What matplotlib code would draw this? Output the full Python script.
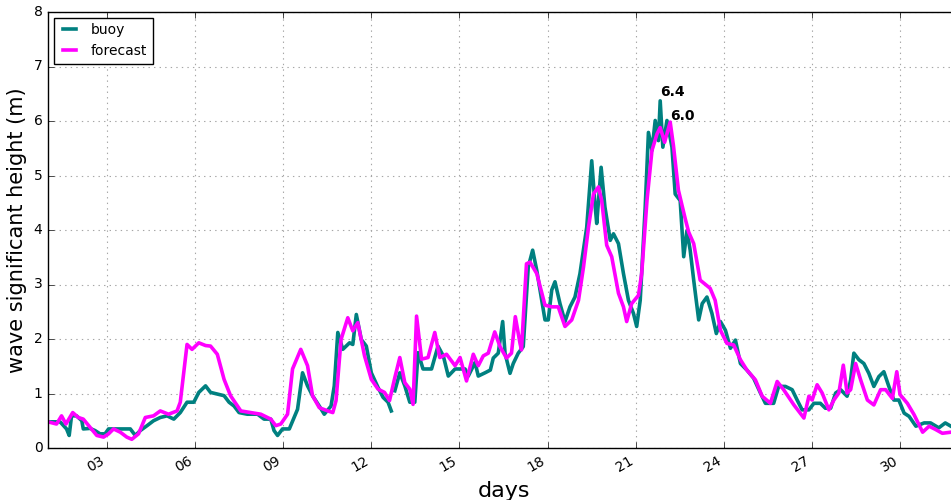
import numpy as np
import pandas as pd
import matplotlib
matplotlib.use("Agg")
import matplotlib.pyplot as plt
import matplotlib.dates as mdates
from matplotlib.dates import DateFormatter

# day of month (fractional) and wave height (m)
buoy_days = [1.0, 1.41, 1.63, 1.72, 1.8, 1.97, 2.15, 2.2, 2.43, 2.6, 2.77, 2.94, 3.06, 3.46, 3.8,
             3.97, 4.14, 4.37, 4.59, 4.82, 5.05, 5.28, 5.5, 5.73, 5.96, 6.13, 6.36, 6.53, 6.76,
             6.99, 7.16, 7.33, 7.5, 7.78, 8.13, 8.35, 8.58, 8.69, 8.81, 8.98, 9.21, 9.49, 9.66,
             9.83, 10.0, 10.23, 10.4, 10.63, 10.74, 10.86, 11.03, 11.26, 11.37, 11.49, 11.66,
             11.83, 12.0, 12.23, 12.4, 12.57, 12.68, 12.74, 12.8, 12.97, 13.14, 13.31, 13.48,
             13.59, 13.76, 14.05, 14.27, 14.45, 14.62, 14.85, 15.19, 15.3, 15.53, 15.64, 15.87,
             16.05, 16.15, 16.32, 16.47, 16.55, 16.72, 16.83, 17.0, 17.17, 17.34, 17.49, 17.63,
             17.8, 17.91, 18.02, 18.14, 18.25, 18.42, 18.59, 18.76, 18.93, 19.1, 19.33, 19.5,
             19.61, 19.67, 19.82, 19.95, 20.13, 20.24, 20.41, 20.58, 20.75, 20.92, 21.03, 21.15,
             21.32, 21.43, 21.55, 21.66, 21.77, 21.83, 21.92, 22.06, 22.23, 22.34, 22.51, 22.63,
             22.74, 22.85, 22.97, 23.14, 23.26, 23.42, 23.59, 23.74, 23.88, 24.05, 24.22, 24.39,
             24.56, 24.78, 25.01, 25.24, 25.41, 25.69, 25.86, 26.09, 26.32, 26.49, 26.66, 26.89,
             27.06, 27.28, 27.45, 27.63, 27.8, 27.97, 28.19, 28.31, 28.42, 28.59, 28.76, 28.93,
             29.1, 29.27, 29.44, 29.61, 29.78, 29.95, 30.13, 30.3, 30.53, 30.81, 31.03, 31.31,
             31.53, 31.72]
buoy_hs = [0.48, 0.48, 0.35, 0.23, 0.59, 0.59, 0.50, 0.35, 0.36, 0.32, 0.26, 0.26, 0.35, 0.35, 0.35,
           0.23, 0.32, 0.41, 0.50, 0.56, 0.59, 0.53, 0.65, 0.84, 0.84, 1.02, 1.14, 1.02, 0.99,
           0.96, 0.84, 0.77, 0.65, 0.62, 0.62, 0.53, 0.53, 0.32, 0.23, 0.35, 0.35, 0.71, 1.38,
           1.14, 0.96, 0.77, 0.62, 0.77, 1.14, 2.12, 1.81, 1.93, 1.90, 2.45, 1.99,
           1.87, 1.38, 1.11, 0.93, 0.84, 0.68, np.nan, 1.05, 1.38, 1.14, 0.84, 0.84,
           1.75, 1.45, 1.45, 1.87, 1.69, 1.32, 1.45, 1.45, 1.32, 1.57, 1.32, 1.38,
           1.43, 1.65, 1.74, 2.32, 1.74, 1.37, 1.55, 1.74, 1.86, 3.32, 3.63, 3.26,
           2.71, 2.35, 2.35, 2.90, 3.05, 2.65, 2.32, 2.59, 2.77, 3.20, 4.05, 5.27,
           4.48, 4.12, 5.15, 4.42, 3.81, 3.93, 3.75, 3.20, 2.71, 2.47, 2.23, 2.71,
           4.42, 5.79, 5.46, 6.01, 5.64, 6.37, 5.52, 6.01, 5.52, 4.66, 4.54, 3.51,
           3.99, 3.63, 3.08, 2.35, 2.65, 2.77, 2.47, 2.10, 2.32, 2.16, 1.83, 1.98,
           1.55, 1.43, 1.28, 1.01, 0.82, 0.82, 1.13, 1.13, 1.07, 0.88, 0.70, 0.70,
           0.82, 0.82, 0.73, 0.73, 1.01, 1.07, 0.95, 1.25, 1.74, 1.62, 1.55, 1.37,
           1.13, 1.31, 1.40, 1.13, 0.88, 0.88, 0.64, 0.58, 0.40, 0.46, 0.46, 0.37,
           0.46, 0.40]

fc_days = [1.0, 1.29, 1.46, 1.61, 1.84, 2.03, 2.2, 2.43, 2.66, 2.89, 3.06, 3.23, 3.46, 3.68, 3.85,
           4.08, 4.31, 4.59, 4.82, 5.1, 5.39, 5.5, 5.73, 5.9, 6.13, 6.36, 6.53, 6.76, 6.99, 7.21,
           7.56, 7.9, 8.24, 8.58, 8.75, 8.92, 9.15, 9.32, 9.6, 9.83, 10.0, 10.23, 10.52, 10.69,
           10.8, 10.97, 11.2, 11.37, 11.54, 11.77, 12.0, 12.23, 12.45, 12.62, 12.8, 12.97,
           13.14, 13.31, 13.42, 13.54, 13.71, 13.93, 14.16, 14.33, 14.56, 14.85, 15.02, 15.24,
           15.47, 15.64, 15.81, 15.98, 16.2, 16.38, 16.6, 16.77, 16.9, 17.06, 17.11, 17.28,
           17.4, 17.63, 17.91, 18.14, 18.36, 18.59, 18.82, 19.05, 19.22, 19.39, 19.56, 19.73,
           19.84, 20.01, 20.18, 20.41, 20.58, 20.69, 20.86, 21.09, 21.2, 21.38, 21.55, 21.72,
           21.83, 21.98, 22.17, 22.28, 22.45, 22.68, 22.8, 22.97, 23.19, 23.53, 23.7, 23.88,
           24.1, 24.33, 24.56, 24.78, 25.07, 25.3, 25.58, 25.81, 26.03, 26.38, 26.72, 26.89,
           27.0, 27.17, 27.34, 27.57, 27.74, 27.91, 28.06, 28.19, 28.31, 28.48, 28.65, 28.88,
           29.1, 29.33, 29.5, 29.73, 29.88, 29.99, 30.24, 30.47, 30.76, 30.98, 31.2, 31.43,
           31.72]
fc_hs = [0.48, 0.44, 0.59, 0.44, 0.65, 0.56, 0.53, 0.38, 0.23, 0.20, 0.26, 0.35, 0.29, 0.20, 0.16,
         0.26, 0.56, 0.59, 0.68, 0.62, 0.68, 0.84, 1.90, 1.81, 1.93, 1.88, 1.87, 1.72, 1.26, 0.96,
         0.68, 0.65, 0.62, 0.53, 0.41, 0.44, 0.62, 1.45, 1.81, 1.51, 0.96, 0.74, 0.68, 0.65,
         0.87, 1.99, 2.39, 2.15, 2.30, 1.69, 1.26, 1.08, 1.02, 0.87, 1.29, 1.66,
         1.20, 1.08, 0.80, 2.42, 1.63, 1.66, 2.12, 1.66, 1.72, 1.51, 1.66, 1.23,
         1.72, 1.51, 1.69, 1.74, 2.13, 1.86, 1.65, 1.74, 2.41, 1.92, 1.80, 3.38,
         3.41, 3.20, 2.62, 2.59, 2.59, 2.23, 2.35, 2.71, 3.32, 4.05, 4.66, 4.79,
         4.54, 3.72, 3.51, 2.84, 2.59, 2.32, 2.65, 2.80, 3.20, 4.54, 5.46, 5.76,
         5.88, 5.61, 5.98, 5.55, 4.73, 4.21, 3.96, 3.75, 3.08, 2.93, 2.71, 2.16,
         1.92, 1.89, 1.62, 1.43, 1.25, 0.95, 0.82, 1.22, 1.07, 0.79, 0.55, 0.95,
         0.88, 1.16, 1.01, 0.70, 0.88, 1.01, 1.52, 1.01, 1.07, 1.55, 1.25, 0.88,
         0.79, 1.07, 1.07, 0.91, 1.40, 0.98, 0.82, 0.61, 0.29, 0.40, 0.34, 0.27,
         0.29]

month_start = pd.Timestamp("2016-01-01")
buoy_t = month_start + pd.to_timedelta(np.array(buoy_days) - 1, unit="D")
fc_t = month_start + pd.to_timedelta(np.array(fc_days) - 1, unit="D")

plt.style.use("classic")
fig = plt.figure(figsize=(9.51, 5.0), dpi=100, facecolor="white")
ax = fig.add_axes([0.0505, 0.104, 0.958, 0.872])
ax.set_axisbelow(True)

ax.plot(buoy_t, buoy_hs, color="#008080", lw=2.6, label="buoy")
ax.plot(fc_t, fc_hs, color="magenta", lw=2.6, label="forecast")

# max labels
i_b = int(np.nanargmax(buoy_hs))
i_f = int(np.argmax(fc_hs))
ax.text(buoy_t[i_b], buoy_hs[i_b] + 0.08, "%.1f" % buoy_hs[i_b], fontsize=10, fontweight="bold")
ax.text(fc_t[i_f], fc_hs[i_f] + 0.03, "%.1f" % fc_hs[i_f], fontsize=10, fontweight="bold")

ax.set_xlim(month_start, pd.Timestamp("2016-02-01"))
ax.set_ylim(0, 8)
ax.grid(True, color="0.65", linestyle=":", linewidth=0.8)
for sp in ax.spines.values():
    sp.set_zorder(5)

ax.xaxis.set_major_locator(mdates.DayLocator(bymonthday=range(3, 31, 3)))
ax.xaxis.set_major_formatter(DateFormatter("%d"))
ax.tick_params(labelsize=10)
for lab in ax.get_xticklabels():
    lab.set_rotation(30)
    lab.set_ha("right")

ax.set_xlabel("days", fontsize=16)
ax.set_ylabel("wave significant height (m)", fontsize=15)

leg = ax.legend(loc="upper left", fontsize=10, handlelength=1.5, borderaxespad=0.4)
leg.get_frame().set_edgecolor("black")

fig.savefig("out.png", dpi=100, facecolor="white")
